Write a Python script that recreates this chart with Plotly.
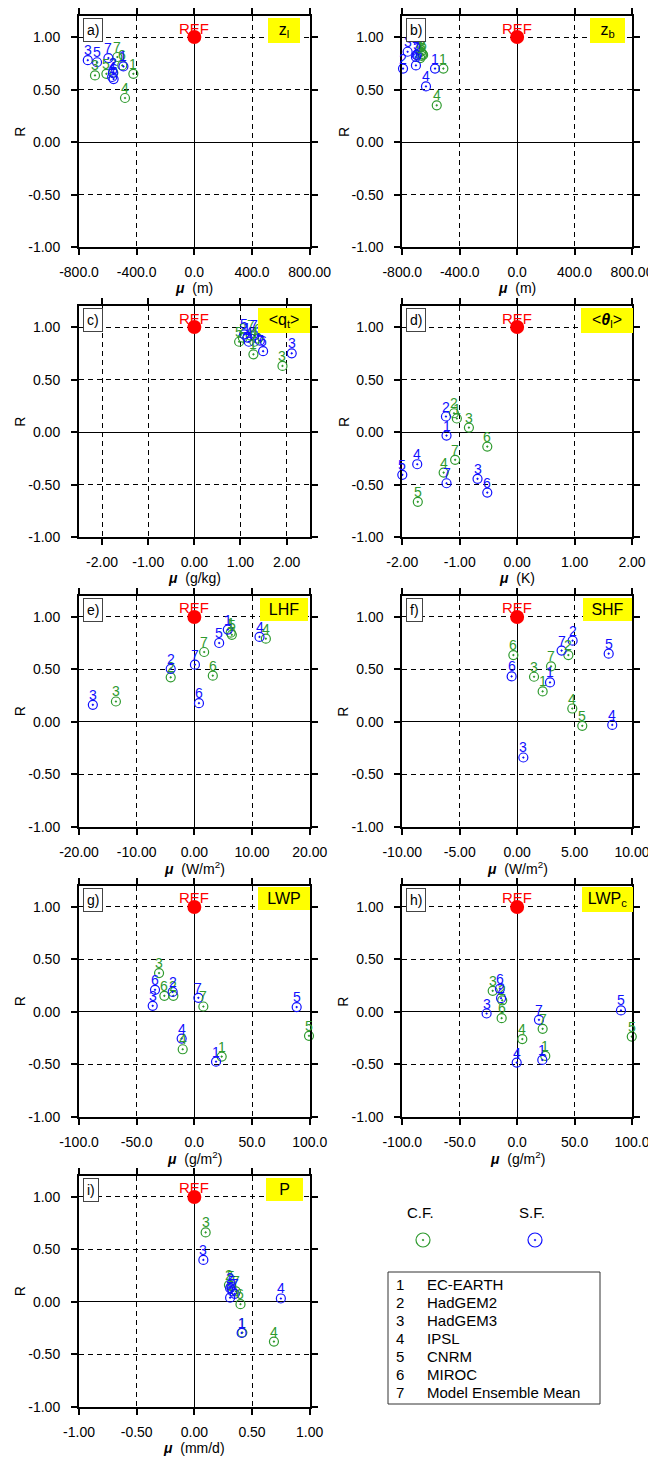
import plotly.graph_objects as go

# ---------------- data ----------------
models = ["EC-EARTH", "HadGEM2", "HadGEM3", "IPSL", "CNRM", "MIROC", "Model Ensemble Mean"]
ids = ["1", "2", "3", "4", "5", "6", "7"]

# a) z_l
zl_cf_mu = [-423, -562, -689, -481, -610, -500, -534]
zl_cf_r = [0.65, 0.66, 0.635, 0.42, 0.65, 0.73, 0.81]
zl_sf_mu = [-492, -565, -739, -570, -675, -560, -596]
zl_sf_r = [0.72, 0.66, 0.78, 0.62, 0.76, 0.60, 0.80]
# b) z_b
zb_cf_mu = [-514, -660, -665, -560, -675, -655, -670]
zb_cf_r = [0.70, 0.84, 0.82, 0.35, 0.80, 0.83, 0.86]
zb_sf_mu = [-572, -795, -763, -635, -700, -705, -705]
zb_sf_r = [0.70, 0.70, 0.86, 0.53, 0.83, 0.73, 0.81]
# c) <q_t>
qt_cf_mu = [1.28, 1.05, 1.91, 1.30, 0.97, 1.38, 1.22]
qt_cf_r = [0.74, 0.90, 0.63, 0.86, 0.86, 0.89, 0.92]
qt_sf_mu = [1.15, 1.42, 2.11, 1.18, 1.08, 1.49, 1.30]
qt_sf_r = [0.90, 0.87, 0.75, 0.86, 0.93, 0.77, 0.92]
# d) <theta_l>
th_cf_mu = [-1.05, -1.10, -0.84, -1.28, -1.73, -0.52, -1.08]
th_cf_r = [0.13, 0.18, 0.044, -0.384, -0.663, -0.137, -0.263]
th_sf_mu = [-1.23, -1.24, -0.69, -1.74, -2.0, -0.52, -1.23]
th_sf_r = [-0.032, 0.149, -0.444, -0.305, -0.406, -0.575, -0.486]
# e) LHF
lhf_cf_mu = [6.3, -4.1, -13.6, 12.4, 6.5, 3.2, 1.7]
lhf_cf_r = [0.85, 0.424, 0.194, 0.793, 0.83, 0.44, 0.666]
lhf_sf_mu = [5.8, -4.1, -17.6, 11.3, 4.3, 0.8, 0.1]
lhf_sf_r = [0.88, 0.506, 0.162, 0.81, 0.752, 0.178, 0.545]
# f) SHF
shf_cf_mu = [2.22, 4.46, 1.47, 4.8, 5.67, -0.33, 2.95]
shf_cf_r = [0.29, 0.637, 0.43, 0.127, -0.038, 0.637, 0.529]
shf_sf_mu = [2.86, 4.83, 0.54, 8.28, 7.97, -0.48, 3.87]
shf_sf_r = [0.376, 0.774, -0.34, -0.029, 0.65, 0.433, 0.68]
# g) LWP
lwp_cf_mu = [23.7, -18.2, -30.6, -10.1, 99.4, -26.0, 7.8]
lwp_cf_r = [-0.427, 0.153, 0.37, -0.357, -0.229, 0.153, 0.051]
lwp_sf_mu = [18.8, -18.8, -36.1, -11.0, 88.7, -34.1, 3.5]
lwp_sf_r = [-0.475, 0.19, 0.057, -0.255, 0.045, 0.21, 0.134]
# h) LWP_c
lwpc_cf_mu = [24.5, -13.0, -21.3, 4.5, 99.8, -13.5, 22.2]
lwpc_cf_r = [-0.42, 0.11, 0.20, -0.26, -0.236, -0.06, -0.162]
lwpc_sf_mu = [21.9, -14.0, -26.6, -0.4, 90.4, -15.0, 19.0]
lwpc_sf_r = [-0.459, 0.13, -0.016, -0.484, 0.013, 0.22, -0.076]
# i) P
p_cf_mu = [0.416, 0.30, 0.098, 0.69, 0.32, 0.40, 0.36]
p_cf_r = [-0.293, 0.16, 0.662, -0.379, 0.15, -0.022, 0.10]
p_sf_mu = [0.41, 0.31, 0.078, 0.75, 0.33, 0.31, 0.35]
p_sf_r = [-0.296, 0.13, 0.40, 0.032, 0.10, 0.04, 0.076]

r_ticks = [-1.0, -0.5, 0.0, 0.5, 1.0]
r_ticktext = ["-1.00", "-0.50", "0.00", "0.50", "1.00"]

panels = [
    dict(tag="a)", var="z<sub>l</sub>", unit="(m)", rng=[-800, 800],
         tv=[-800, -400, 0, 400, 800], tt=["-800.0", "-400.0", "0.0", "400.0", "800.00"],
         cf=(zl_cf_mu, zl_cf_r), sf=(zl_sf_mu, zl_sf_r), bw=26),
    dict(tag="b)", var="z<sub>b</sub>", unit="(m)", rng=[-800, 800],
         tv=[-800, -400, 0, 400, 800], tt=["-800.0", "-400.0", "0.0", "400.0", "800.00"],
         cf=(zb_cf_mu, zb_cf_r), sf=(zb_sf_mu, zb_sf_r), bw=29),
    dict(tag="c)", var="&lt;q<sub>t</sub>&gt;", unit="(g/kg)", rng=[-2.5, 2.5],
         tv=[-2, -1, 0, 1, 2], tt=["-2.00", "-1.00", "0.00", "1.00", "2.00"],
         cf=(qt_cf_mu, qt_cf_r), sf=(qt_sf_mu, qt_sf_r), bw=46),
    dict(tag="d)", var="&lt;<b><i>θ</i></b><sub>l</sub>&gt;", unit="(K)", rng=[-2, 2],
         tv=[-2, -1, 0, 1, 2], tt=["-2.00", "-1.00", "0.00", "1.00", "2.00"],
         cf=(th_cf_mu, th_cf_r), sf=(th_sf_mu, th_sf_r), bw=46),
    dict(tag="e)", var="LHF", unit="(W/m<sup>2</sup>)", rng=[-20, 20],
         tv=[-20, -10, 0, 10, 20], tt=["-20.00", "-10.00", "0.00", "10.00", "20.00"],
         cf=(lhf_cf_mu, lhf_cf_r), sf=(lhf_sf_mu, lhf_sf_r), bw=42),
    dict(tag="f)", var="SHF", unit="(W/m<sup>2</sup>)", rng=[-10, 10],
         tv=[-10, -5, 0, 5, 10], tt=["-10.00", "-5.00", "0.00", "5.00", "10.00"],
         cf=(shf_cf_mu, shf_cf_r), sf=(shf_sf_mu, shf_sf_r), bw=43),
    dict(tag="g)", var="LWP", unit="(g/m<sup>2</sup>)", rng=[-100, 100],
         tv=[-100, -50, 0, 50, 100], tt=["-100.0", "-50.0", "0.0", "50.0", "100.0"],
         cf=(lwp_cf_mu, lwp_cf_r), sf=(lwp_sf_mu, lwp_sf_r), bw=46),
    dict(tag="h)", var="LWP<sub>c</sub>", unit="(g/m<sup>2</sup>)", rng=[-100, 100],
         tv=[-100, -50, 0, 50, 100], tt=["-100.0", "-50.0", "0.0", "50.0", "100.0"],
         cf=(lwpc_cf_mu, lwpc_cf_r), sf=(lwpc_sf_mu, lwpc_sf_r), bw=45),
    dict(tag="i)", var="P", unit="(mm/d)", rng=[-1, 1],
         tv=[-1, -0.5, 0, 0.5, 1], tt=["-1.00", "-0.50", "0.00", "0.50", "1.00"],
         cf=(p_cf_mu, p_cf_r), sf=(p_sf_mu, p_sf_r), bw=31),
]

# ---------------- layout geometry (pixels) ----------------
W, H = 648, 1457
FONT = "Liberation Sans, Arial, sans-serif"
GREEN = "#2e9a2e"
BLUE = "#1010ff"
COLS = [(79.0, 309.7), (402.3, 632.0)]
ROWS = [(16.0, 247.3), (306.0, 537.3), (596.0, 826.7), (886.0, 1116.7), (1176.0, 1406.7)]


def fx(p):
    return p / W


def fy(p):
    return 1 - p / H


fig = go.Figure()
layout = dict(
    width=W, height=H, margin=dict(l=0, r=0, t=0, b=0, autoexpand=False),
    paper_bgcolor="white", plot_bgcolor="rgba(0,0,0,0)", showlegend=False,
    font=dict(family=FONT, size=14, color="black"),
)
annotations = []
shapes = []

for k, p in enumerate(panels):
    n = k + 1
    row, col = divmod(k, 2)
    x0, x1 = COLS[col]
    y0, y1 = ROWS[row]
    xa = "xaxis" if n == 1 else f"xaxis{n}"
    ya = "yaxis" if n == 1 else f"yaxis{n}"
    xr = "x" if n == 1 else f"x{n}"
    yr = "y" if n == 1 else f"y{n}"
    common = dict(
        showline=True, linewidth=2, linecolor="black", mirror="ticks",
        ticks="outside", ticklen=6, tickwidth=1.5, tickcolor="black",
        showgrid=True, gridcolor="black", gridwidth=1, griddash="5px,4px",
        zeroline=True, zerolinecolor="black", zerolinewidth=1.2,
        tickfont=dict(size=14, family=FONT), fixedrange=True, automargin=False,
        ticklabeloverflow="allow",
    )
    layout[xa] = dict(common, domain=[fx(x0), fx(x1)], range=p["rng"], anchor=yr,
                      tickmode="array", tickvals=p["tv"], ticktext=p["tt"],
                      ticklabelstandoff=5)
    layout[ya] = dict(common, domain=[fy(y1), fy(y0)], range=[-1, 1.2], anchor=xr,
                      tickmode="array", tickvals=r_ticks, ticktext=r_ticktext,
                      ticklabelstandoff=8)

    for (mu, r), color in ((p["cf"], GREEN), (p["sf"], BLUE)):
        fig.add_trace(go.Scatter(
            x=mu, y=r, xaxis=xr, yaxis=yr, mode="markers", cliponaxis=False,
            marker=dict(symbol="circle-open-dot", size=9, color=color,
                        line=dict(width=1.2, color=color)),
            hoverinfo="skip"))
        for xv, yv, t in zip(mu, r, ids):
            annotations.append(dict(
                text=t, x=xv, y=yv, xref=xr, yref=yr, showarrow=False,
                xanchor="center", yanchor="middle", yshift=10,
                font=dict(color=color, size=14)))
    fig.add_trace(go.Scatter(
        x=[0], y=[1], xaxis=xr, yaxis=yr, mode="markers", cliponaxis=False,
        marker=dict(symbol="circle", size=14, color="red"), hoverinfo="skip"))
    annotations.append(dict(
        text="REF", x=0, y=1, xref=xr, yref=yr, showarrow=False,
        xanchor="center", yanchor="middle", yshift=9,
        font=dict(color="red", size=15)))

    dref_x = f"{xr} domain"
    dref_y = f"{yr} domain"
    wpx = x1 - x0
    hpx = y1 - y0
    # panel tag box
    annotations.append(dict(
        text=p["tag"], xref=dref_x, yref=dref_y, x=4 / wpx, y=1 - 2 / hpx,
        xanchor="left", yanchor="top", showarrow=False, bgcolor="white",
        bordercolor="#444", borderwidth=1, borderpad=3, font=dict(size=14)))
    # variable label (yellow)
    annotations.append(dict(
        text=p["var"], xref=dref_x, yref=dref_y, x=205 / wpx,
        y=1 - 1.5 / hpx, xanchor="center", yanchor="top", showarrow=False,
        bgcolor="#ffff00", borderpad=3, borderwidth=0, width=p["bw"],
        font=dict(size=16)))
    # x title
    annotations.append(dict(
        text="<b><i>μ</i></b>  " + p["unit"], xref=dref_x, yref=dref_y,
        x=0.5, y=-41 / hpx, xanchor="center", yanchor="middle",
        showarrow=False, font=dict(size=14)))
    # y title
    annotations.append(dict(
        text="R", xref=dref_x, yref=dref_y, x=-59 / wpx, y=0.5,
        xanchor="center", yanchor="middle", textangle=-90, showarrow=False,
        font=dict(size=14)))

# ---------------- key (bottom right) ----------------
layout["xaxis10"] = dict(domain=[fx(380), fx(610)], range=[380, 610], visible=False,
                         fixedrange=True, anchor="y10", automargin=False)
layout["yaxis10"] = dict(domain=[fy(1260), fy(1195)], range=[1260, 1195], visible=False,
                         fixedrange=True, anchor="x10", automargin=False)
key_labels = ["C.F.", "S.F."]
key_colors = [GREEN, BLUE]
key_x = [423, 535]
fig.add_trace(go.Scatter(
    x=key_x, y=[1240, 1240], xaxis="x10", yaxis="y10", mode="markers",
    marker=dict(symbol="circle-open-dot", size=14, color=key_colors,
                line=dict(width=1.2, color=key_colors)),
    hoverinfo="skip"))
for lab, xk in zip(key_labels, key_x):
    annotations.append(dict(text=lab, xref="paper", yref="paper", x=fx(xk - 3),
                            y=fy(1212), xanchor="center", yanchor="middle",
                            showarrow=False, font=dict(size=15)))

shapes.append(dict(type="rect", xref="paper", yref="paper",
                   x0=fx(388), x1=fx(600), y0=fy(1404), y1=fy(1272),
                   line=dict(color="#333", width=1), fillcolor="rgba(0,0,0,0)"))
for i, (num, name) in enumerate(zip(ids, models)):
    yc = 1284 + i * 18
    annotations.append(dict(text=num, xref="paper", yref="paper", x=fx(394), y=fy(yc),
                            xanchor="left", yanchor="middle", showarrow=False,
                            font=dict(size=15)))
    annotations.append(dict(text=name, xref="paper", yref="paper", x=fx(425), y=fy(yc),
                            xanchor="left", yanchor="middle", showarrow=False,
                            font=dict(size=15)))

layout["annotations"] = annotations
layout["shapes"] = shapes
fig.update_layout(**layout)
fig.write_html(
    "out.html",
    config={"displayModeBar": False},
    post_script="document.body.style.margin='0px';document.body.style.padding='0px';",
)
